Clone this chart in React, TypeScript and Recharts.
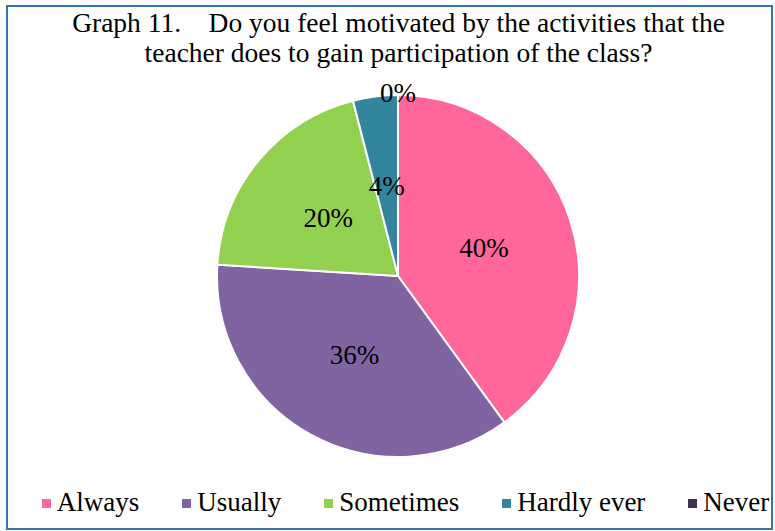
import React from 'react';
import { PieChart, Pie, Cell, Legend } from 'recharts';

const categories = ['Always', 'Usually', 'Sometimes', 'Hardly ever', 'Never'];
const values = [40, 36, 20, 4, 0];
const colors = ['#FF6699', '#8064A2', '#92D050', '#31859C', '#403152'];
const titleLines = [
  'Graph 11.\u00a0\u00a0\u00a0\u00a0Do you feel motivated by the activities that the',
  'teacher does to gain participation of the class?',
];

const data = categories.map((name, i) => ({ name, value: values[i] }));

const FONT = "'Times New Roman', 'Liberation Serif', Tinos, serif";
const RADIAN = Math.PI / 180;

const renderLabel = (props: any) => {
  const { cx, cy, midAngle, outerRadius, value } = props;
  const r = value === 0 ? outerRadius + 2 : outerRadius * 0.5;
  const x = cx + r * Math.cos(-midAngle * RADIAN);
  const y = cy + r * Math.sin(-midAngle * RADIAN);
  return (
    <text
      x={x}
      y={y}
      textAnchor="middle"
      dominantBaseline="central"
      fill="#000"
      style={{ fontFamily: FONT, fontSize: 27 }}
    >
      {value}%
    </text>
  );
};

const renderLegend = () => (
  <div
    style={{
      display: 'flex',
      justifyContent: 'center',
      gap: 43,
      fontFamily: FONT,
      fontSize: 27,
      color: '#000',
      whiteSpace: 'nowrap',
      lineHeight: '30px',
    }}
  >
    {categories.map((c, i) => (
      <div key={c} style={{ display: 'flex', alignItems: 'center' }}>
        <span
          style={{
            display: 'inline-block',
            width: 9,
            height: 9,
            background: colors[i],
            marginRight: 6,
            marginTop: 2,
          }}
        />
        <span>{c}</span>
      </div>
    ))}
  </div>
);

export default function App() {
  return (
    <div
      style={{
        position: 'absolute',
        left: 0,
        top: 0,
        width: 775,
        height: 531,
        background: '#fff',
        overflow: 'hidden',
        fontFamily: FONT,
      }}
    >
      <div
        style={{
          position: 'absolute',
          left: 6,
          top: 5,
          width: 767,
          height: 525,
          boxSizing: 'border-box',
          border: '2px solid #2E75B6',
        }}
      />
      <div
        style={{
          position: 'absolute',
          left: 0,
          top: 8,
          width: 797,
          textAlign: 'center',
          fontFamily: FONT,
          fontSize: 27.5,
          lineHeight: '30px',
          color: '#000',
        }}
      >
        {titleLines.map((t) => (
          <div key={t}>{t}</div>
        ))}
      </div>
      <div style={{ position: 'absolute', left: 0, top: 0 }}>
        <PieChart width={775} height={531} margin={{ top: 0, right: 0, bottom: 0, left: 0 }}>
          <Pie
            data={data}
            dataKey="value"
            nameKey="name"
            cx={398}
            cy={276}
            outerRadius={181}
            startAngle={90}
            endAngle={-270}
            stroke="#fff"
            strokeWidth={2}
            label={renderLabel}
            labelLine={false}
            isAnimationActive={false}
          >
            {data.map((d, i) => (
              <Cell key={d.name} fill={colors[i]} />
            ))}
          </Pie>
          <Legend
            verticalAlign="bottom"
            content={renderLegend}
            wrapperStyle={{ top: 487, bottom: 'auto', left: 0, width: 811 }}
          />
        </PieChart>
      </div>
    </div>
  );
}
